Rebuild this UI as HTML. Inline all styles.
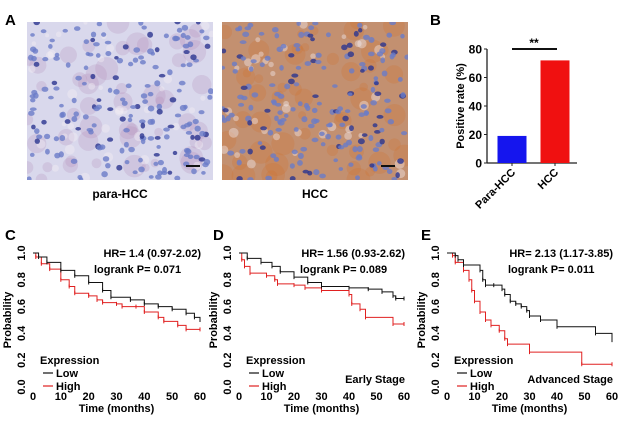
<!DOCTYPE html>
<html><head><meta charset="utf-8"><style>
body{margin:0;background:#fff}
svg{display:block;font-family:"Liberation Sans",Arial,sans-serif;font-weight:bold}
</style></head><body>
<svg id="fig" width="623" height="425" viewBox="0 0 623 425">
<defs>
<clipPath id="clip1"><rect x="27" y="22" width="186" height="158"/></clipPath>
<clipPath id="clip2"><rect x="222" y="22" width="186" height="158"/></clipPath>
</defs>
<text x="5" y="25" font-size="15">A</text>
<text x="430" y="25" font-size="15">B</text>
<text x="5" y="240" font-size="15">C</text>
<text x="213" y="240" font-size="15">D</text>
<text x="421" y="240" font-size="15">E</text>
<g id="imgs"></g>
<text x="120" y="198" font-size="12" text-anchor="middle">para-HCC</text>
<text x="315" y="198" font-size="12" text-anchor="middle">HCC</text>
<g id="barchart"></g>
<g id="km"></g>
</svg>
<script>
// ---- Bar chart data ----
const barCats = ["Para-HCC", "HCC"];
const barVals = [19, 72];
const barTicks = [0, 20, 40, 60, 80];
// ---- KM data ----
const kmTicksX = [0, 10, 20, 30, 40, 50, 60];
const kmTicksY = [0.0, 0.2, 0.4, 0.6, 0.8, 1.0];
const cLowT = [0,2,5,10,15,20,25,28,35,40,45,50,55,58,60];
const cLowS = [1,0.97,0.93,0.87,0.83,0.78,0.72,0.67,0.65,0.62,0.6,0.58,0.55,0.52,0.5];
const cHighT = [0,1,3,6,10,13,15,20,23,25,30,32,37,40,45,47,52,55,60];
const cHighS = [1,0.97,0.92,0.88,0.8,0.75,0.7,0.68,0.65,0.63,0.62,0.6,0.6,0.56,0.52,0.49,0.46,0.43,0.43];
const dLowT = [0,3,8,12,15,20,25,30,40,47,52,56,57,60];
const dLowS = [1,0.96,0.93,0.9,0.86,0.82,0.78,0.75,0.74,0.73,0.71,0.68,0.66,0.66];
const dHighT = [0,1,2,4,10,13,14,20,24,30,40,41,44,46,56,60];
const dHighS = [1,0.95,0.9,0.85,0.83,0.8,0.77,0.76,0.74,0.72,0.69,0.62,0.58,0.52,0.47,0.47];
const eLowT = [0,3,4,6,12,13,14,17,20,21,23,25,27,29,30,34,40,54,60];
const eLowS = [1,0.98,0.95,0.91,0.87,0.8,0.76,0.76,0.73,0.69,0.64,0.62,0.6,0.57,0.53,0.5,0.45,0.4,0.35];
const eHighT = [0,2,3,6,8,9,10,12,14,16,19,21,22,30,49,60];
const eHighS = [1,0.98,0.93,0.87,0.8,0.72,0.64,0.56,0.5,0.46,0.42,0.36,0.32,0.26,0.17,0.17];

const NS="http://www.w3.org/2000/svg";
function mk(tag,attrs,parent,txt){const e=document.createElementNS(NS,tag);for(const k in attrs)e.setAttribute(k,attrs[k]);if(txt!==undefined)e.textContent=txt;parent.appendChild(e);return e;}

// ---- micrographs (decorative texture) ----
const imgs=document.getElementById('imgs');
let seed=7;function rnd(){seed=(seed*16807)%2147483647;return seed/2147483647;}
function micro(x,y,w,h,bg,stain,name,clip){
  const g=mk('g',{'clip-path':`url(#${clip})`},imgs);
  
  
  mk('rect',{x:x,y:y,width:w,height:h,fill:bg},g);
  for(let i=0;i<50;i++){mk('circle',{cx:x+rnd()*w,cy:y+rnd()*h,r:4+rnd()*8,fill:stain,opacity:0.25},g);}
  for(let i=0;i<40;i++){mk('circle',{cx:x+rnd()*w,cy:y+rnd()*h,r:2+rnd()*3,fill:'#f4f0f4',opacity:0.4},g);}
  for(let i=0;i<200;i++){mk('ellipse',{cx:x+rnd()*w,cy:y+rnd()*h,rx:2.2+rnd()*1.3,ry:1.8+rnd()*1.3,fill:rnd()<0.2?'#2a3590':'#6a7cc8',opacity:0.8},g);}
  mk('line',{x1:x+w-27,y1:y+h-14,x2:x+w-13,y2:y+h-14,stroke:'#111','stroke-width':2},g);
}
micro(27,22,186,158,'#d9d8ec','#b58ab8','para-hcc-image','clip1');
micro(222,22,186,158,'#c39070','#d0702a','hcc-image','clip2');

// ---- bar chart ----
const bc=document.getElementById('barchart');
const bx0=487,bx1=577,by0=163,by80=49;
const byS=v=>by0-(v/80)*(by0-by80);
mk('line',{x1:bx0,y1:by80,x2:bx0,y2:by0,stroke:'#222','stroke-width':1.3},bc);
mk('line',{x1:bx0,y1:by0,x2:bx1,y2:by0,stroke:'#222','stroke-width':1.3},bc);
barTicks.forEach(t=>{
  mk('line',{x1:bx0-3,y1:byS(t),x2:bx0,y2:byS(t),stroke:'#222'},bc);
  const tx=mk('text',{x:bx0-5,y:byS(t)+4.5,'font-size':12,'text-anchor':'end'},bc,t);
  
  
});
const yl=mk('text',{x:464,y:106,'font-size':11,'text-anchor':'middle',transform:'rotate(-90 464 106)'},bc,'Positive rate (%)');


const barCols=['#1515ee','#f01010'];
barCats.forEach((c,i)=>{
  const cx=512+i*43;
  const r=mk('rect',{x:cx-14.5,y:byS(barVals[i]),width:29,height:by0-byS(barVals[i]),fill:barCols[i]},bc);
  
  
  mk('line',{x1:cx,y1:by0,x2:cx,y2:by0+3,stroke:'#222'},bc);
  const t=mk('text',{x:cx+4,y:by0+10,'font-size':11,'text-anchor':'end',transform:`rotate(-45 ${cx+4} ${by0+10})`},bc,c);
  
  
});
mk('line',{x1:512,y1:49,x2:557,y2:49,stroke:'#111','stroke-width':2},bc);
const st=mk('text',{x:534,y:47,'font-size':12,'text-anchor':'middle'},bc,'**');



// ---- KM panels ----
const km=document.getElementById('km');
function panel(x0,x60,name,lowT,lowS,highT,highS,hr,p,stage){
  const g=mk('g',{},km);
  
  
  const y1=253,y0=387;
  const X=t=>x0+t/60*(x60-x0), Y=s=>y0-s*(y0-y1);
  kmTicksY.forEach(v=>{
    const t=mk('text',{x:x0-8,y:Y(v),'font-size':11,'text-anchor':'middle',transform:`rotate(-90 ${x0-8} ${Y(v)})`},g,v.toFixed(1));
    
    
  });
  kmTicksX.forEach(v=>{
    const t=mk('text',{x:X(v),y:400,'font-size':11,'text-anchor':'middle'},g,v);
    
    
  });
  const xt=mk('text',{x:(x0+x60)/2,y:412,'font-size':11,'text-anchor':'middle'},g,'Time (months)');
  
  
  const yt=mk('text',{x:x0-22,y:320,'font-size':11,'text-anchor':'middle',transform:`rotate(-90 ${x0-22} 320)`},g,'Probability');
  
  
  function curve(T,S,col,nm){
    let d=`M${X(T[0])},${Y(S[0])}`;
    for(let i=1;i<T.length;i++){d+=` H${X(T[i])} V${Y(S[i])}`;}
    const pth=mk('path',{d:d,fill:'none',stroke:col,'stroke-width':1},g);
    
    
    for(let i=1;i<T.length;i++){mk('line',{x1:X(T[i]),y1:Y(S[i])-2,x2:X(T[i]),y2:Y(S[i])+2,stroke:col,'stroke-width':1},g);}
  }
  curve(highT,highS,'#e02020','km-high-curve');
  curve(lowT,lowS,'#111','km-low-curve');
  const h=mk('text',{x:x60+1,y:257,'font-size':11,'text-anchor':'end'},g,hr);
  
  
  const lp=mk('text',{x:x0+61,y:273,'font-size':11},g,p);
  
  
  const lg=mk('g',{},g);
  
  
  mk('text',{x:x0+7,y:364,'font-size':11},lg,'Expression');
  mk('line',{x1:x0+10,y1:373,x2:x0+20,y2:373,stroke:'#111','stroke-width':1.2},lg);
  mk('text',{x:x0+23,y:377,'font-size':11},lg,'Low');
  mk('line',{x1:x0+10,y1:386,x2:x0+20,y2:386,stroke:'#e02020','stroke-width':1.2},lg);
  mk('text',{x:x0+23,y:390,'font-size':11},lg,'High');
  if(stage){
    const s=mk('text',{x:x60+1,y:383,'font-size':11,'text-anchor':'end'},g,stage);
    
    
  }
}
panel(33,200,'km-panel-c',cLowT,cLowS,cHighT,cHighS,'HR= 1.4 (0.97-2.02)','logrank P= 0.071','');
panel(239,404,'km-panel-d',dLowT,dLowS,dHighT,dHighS,'HR= 1.56 (0.93-2.62)','logrank P= 0.089','Early Stage');
panel(447,612,'km-panel-e',eLowT,eLowS,eHighT,eHighS,'HR= 2.13 (1.17-3.85)','logrank P= 0.011','Advanced Stage');
</script>
</body></html>
